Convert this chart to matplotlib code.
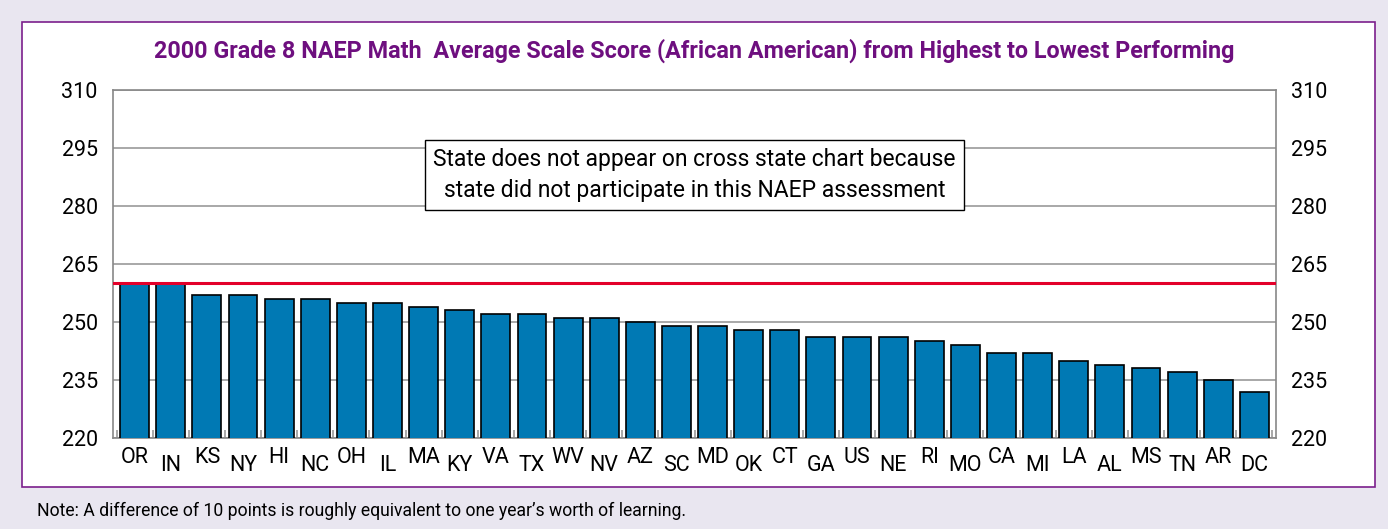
import matplotlib.pyplot as plt
from matplotlib.patches import Rectangle
import matplotlib.transforms as mtransforms
import numpy as np

# 주 이름과 점수
states = ['OR', 'IN', 'KS', 'NY', 'HI', 'NC', 'OH', 'IL', 'MA', 'KY', 'VA', 'TX',
          'WV', 'NV', 'AZ', 'SC', 'MD', 'OK', 'CT', 'GA', 'US', 'NE', 'RI', 'MO',
          'CA', 'MI', 'LA', 'AL', 'MS', 'TN', 'AR', 'DC']
scores = [260, 260, 257, 257, 256, 256, 255, 255, 254, 253, 252, 252,
          251, 251, 250, 249, 249, 248, 248, 246, 246, 246, 245, 244,
          242, 242, 240, 239, 238, 237, 235, 232]
top_score = 260
yticks = [220, 235, 250, 265, 280, 295, 310]

plt.rcParams['font.family'] = ['Roboto', 'DejaVu Sans']

fig = plt.figure(figsize=(13.88, 5.29), dpi=100, facecolor='#E9E6F0')
# 흰색 패널
fig.patches.append(Rectangle((22 / 1388, 1 - 487 / 529), (1375 - 22) / 1388, (487 - 22) / 529,
                             transform=fig.transFigure, facecolor='white',
                             edgecolor='#7B1F8C', linewidth=1.2, zorder=0))

ax = fig.add_axes([113 / 1388, 1 - 438 / 529, (1276 - 113) / 1388, (438 - 90) / 529])
ax.set_zorder(1)

x = np.arange(len(states))
ax.bar(x, scores, width=0.8, color='#0079B4', edgecolor='black', linewidth=1.2, zorder=3)
ax.axhline(top_score, color='#E3002A', linewidth=2.2, zorder=4)

ax.set_ylim(220, 310)
ax.set_xlim(-0.6, len(states) - 0.4)
ax.set_yticks(yticks)
ax.grid(axis='y', color='#999999', linewidth=1.2, zorder=1)
for s in ax.spines.values():
    s.set_color('#888888')
    s.set_linewidth(1.2)

ax.tick_params(axis='y', length=0, labelsize=15.5, pad=11, labelright=True)

# 아래쪽 작은 눈금
ax.set_xticks(np.arange(-0.5, len(states), 1.0), minor=True)
ax.tick_params(axis='x', which='minor', direction='in', length=6, color='#999999', width=1.2)
ax.set_xticks([])

# 주 이름 (번갈아 위치)
trans = mtransforms.blended_transform_factory(ax.transData, ax.transAxes)
for i, st in enumerate(states):
    dy = -0.025 if i % 2 == 0 else -0.048
    ax.text(i, dy, st, transform=trans, ha='center', va='top', fontsize=15.5)

ax.text(0.5, 0.755, 'State does not appear on cross state chart because\n'
        'state did not participate in this NAEP assessment',
        transform=ax.transAxes, ha='center', va='center', fontsize=16.5,
        linespacing=1.45, zorder=5,
        bbox=dict(boxstyle='square,pad=0.35', facecolor='white', edgecolor='black', linewidth=1))

fig.text(694 / 1388, 1 - 51 / 529,
         '2000 Grade 8 NAEP Math  Average Scale Score (African American) from Highest to Lowest Performing',
         ha='center', va='center', fontsize=16.8, fontweight='bold', color='#6E0F7F')
fig.text(37 / 1388, 1 - 511 / 529,
         'Note: A difference of 10 points is roughly equivalent to one year\u2019s worth of learning.',
         ha='left', va='center', fontsize=12.7)

fig.savefig('out.png', dpi=100, facecolor=fig.get_facecolor())
